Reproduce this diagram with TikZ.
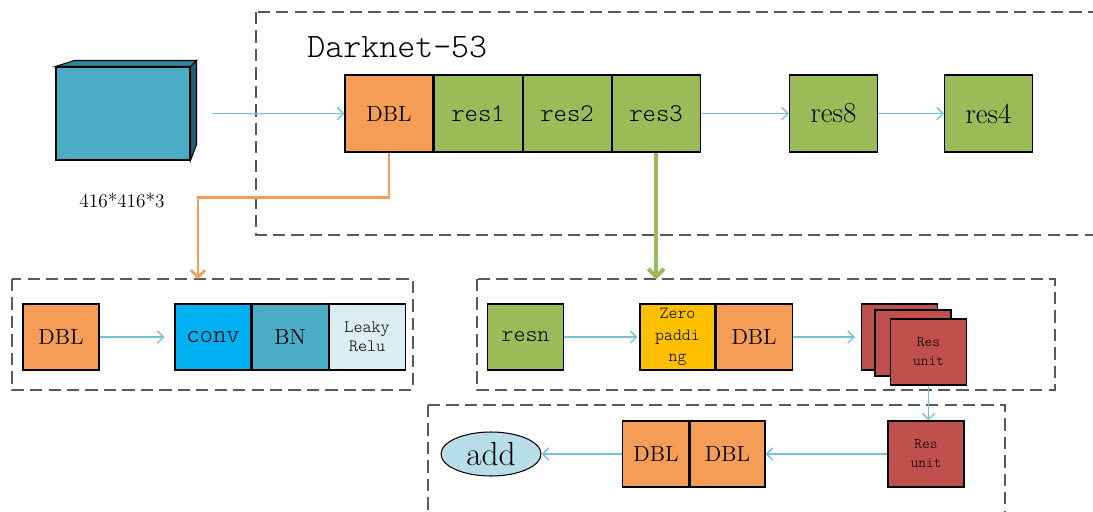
\documentclass[tikz,border=0pt]{standalone}
\usepackage{fontspec}
\setmonofont{Latin Modern Mono Light}
\usepackage{tikz}
\usetikzlibrary{arrows.meta, shapes.geometric, calc}

\definecolor{dblorange}{HTML}{F59D56}
\definecolor{resgreen}{HTML}{9BBB59}
\definecolor{convblue}{HTML}{00B0F0}
\definecolor{bnblue}{HTML}{4BACC6}
\definecolor{relublue}{HTML}{DAEEF3}
\definecolor{zeroyellow}{HTML}{FFC000}
\definecolor{unitred}{HTML}{C0504D}
\definecolor{addblue}{HTML}{B7DDE8}
\definecolor{flowblue}{HTML}{74C1D8}
\definecolor{cubetop}{HTML}{31859C}
\definecolor{cubeside}{HTML}{275F6E}

\tikzset{
    blk/.style={draw=black, line width=0.6pt, inner sep=0pt, align=center,
        minimum width=1.52cm, minimum height=1.32cm},
    bigblk/.style={blk, minimum width=1.76cm, minimum height=1.54cm},
    serifbig/.style={font=\fontsize{12.5}{14}\selectfont},
    monobig/.style={font=\fontsize{14.5}{16}\selectfont\ttfamily},
    grp/.style={draw=black!65, line width=0.7pt, dash pattern=on 7pt off 3.5pt},
    flow/.style={draw=flowblue, line width=0.8pt, -{Straight Barb[length=3.5pt,width=7pt]}},
}

\begin{document}
\begin{tikzpicture}[x=0.02cm, y=-0.02cm]
    \useasboundingbox (0,0) rectangle (1093,511);
    \clip (0,0) rectangle (1093,511);

    % input image
    \node[draw=black, line width=0.6pt, fill=bnblue, minimum width=2.68cm, minimum height=1.86cm, inner sep=0pt] (img) at (123,113.5) {};
    \filldraw[fill=cubetop, draw=black, line width=0.6pt] (img.north west) -- ++(19,-6) -- ($(img.north east)+(6,-6)$) -- (img.north east) -- cycle;
    \filldraw[fill=cubeside, draw=black, line width=0.6pt] (img.north east) -- ++(6,-6) -- ++(0,84) -- (img.south east) -- cycle;
    \node[font=\fontsize{11}{13}\selectfont] (imgsize) at (122,200) {416*416*3};

    % Darknet-53
    \draw[grp] (256,12) rectangle (1110,235);
    \node[anchor=base west, inner sep=0pt, font=\fontsize{19.5}{22}\selectfont\ttfamily] (title) at (307,57) {Darknet-53};

    \node[bigblk, fill=dblorange, serifbig] (dbl) at (389,113.5) {DBL};
    \node[bigblk, fill=resgreen, monobig, anchor=west] (res1) at (dbl.east) {res1};
    \node[bigblk, fill=resgreen, monobig, anchor=west] (res2) at (res1.east) {res2};
    \node[bigblk, fill=resgreen, monobig, anchor=west] (res3) at (res2.east) {res3};
    \node[bigblk, fill=resgreen, font=\fontsize{16.5}{18}\selectfont] (res8) at (833.5,113.5) {res8};
    \node[bigblk, fill=resgreen, font=\fontsize{16.5}{18}\selectfont] (res4) at (988.5,113.5) {res4};

    \draw[flow] ([xshift=0.42cm]img.east) -- (dbl.west);
    \draw[flow] (res3.east) -- (res8.west);
    \draw[flow] (res8.east) -- (res4.west);

    % DBL detail
    \draw[grp] (12,279) rectangle (413,390);
    \node[blk, fill=dblorange, serifbig] (dblbox) at (61,337) {DBL};
    \node[blk, fill=convblue, monobig] (conv) at (213,337) {conv};
    \node[blk, fill=bnblue, serifbig, anchor=west] (bn) at (conv.east) {BN};
    \node[blk, fill=relublue, anchor=west, font=\fontsize{9.8}{11}\selectfont\ttfamily] (relu) at (bn.east) {Leaky\\Relu};
    \draw[flow] (dblbox.east) -- ([xshift=-0.2cm]conv.west);

    \coordinate (dblin) at (198,279);
    \draw[draw=dblorange, line width=1.5pt, -{Straight Barb[length=4pt,width=8pt]}] (dbl.south) -- ++(0,45) -| (dblin);

    % resn detail
    \draw[grp] (477,279) rectangle (1055,390);
    \node[blk, fill=resgreen, font=\fontsize{13}{15}\selectfont\ttfamily] (resn) at (525.5,337) {resn};
    \node[blk, fill=zeroyellow, minimum width=1.5cm, font=\fontsize{9.7}{12.3}\selectfont\ttfamily] (zero) at (677.5,337) {Zero\\paddi\\ng};
    \node[blk, fill=dblorange, serifbig, anchor=west] (zdbl) at (zero.east) {DBL};
    \node[blk, fill=unitred] (ru1) at (899.5,337) {};
    \node[blk, fill=unitred] (ru2) at (913,343) {};
    \node[blk, fill=unitred, font=\fontsize{8.4}{10.8}\selectfont\ttfamily] (ru3) at (928.5,352) {Res\\unit};
    \draw[flow] (resn.east) -- ([xshift=-0.04cm]zero.west);
    \draw[flow] (zdbl.east) -- ([xshift=-0.12cm]ru1.west);

    \coordinate (resin) at ($(res3.south)+(0,127)$);
    \draw[draw=resgreen, line width=2.2pt, -{Straight Barb[length=4.5pt,width=9pt]}] (res3.south) -- (resin);

    % Res unit detail
    \draw[grp] (428,405) -- (1005,405) -- (1005,530) (428,405) -- (428,530);
    \node[blk, fill=unitred, font=\fontsize{8.4}{10.8}\selectfont\ttfamily] (unit) at (926,454) {Res\\unit};
    \node[blk, fill=dblorange, serifbig, minimum width=1.5cm] (udbl2) at (727.5,454) {DBL};
    \node[blk, fill=dblorange, serifbig, minimum width=1.32cm, anchor=east] (udbl1) at (udbl2.west) {DBL};
    \node[ellipse, draw=black, line width=0.6pt, fill=addblue, minimum width=2cm, minimum height=0.88cm, inner sep=0pt, font=\fontsize{19}{21}\selectfont] (add) at (491,454) {add};

    \draw[flow] (ru3.south) -- (ru3.south |- unit.north);
    \draw[flow] (unit.west) -- (udbl2.east);
    \draw[flow] (udbl1.west) -- (add.east);
\end{tikzpicture}
\end{document}
